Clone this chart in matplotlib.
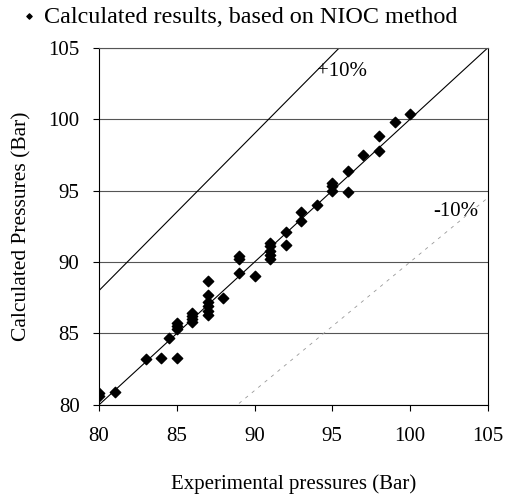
import matplotlib.pyplot as plt
import numpy as np

plt.rcParams['font.family'] = ['Liberation Serif', 'DejaVu Serif']

# experimental vs calculated pressures (Bar)
exp_p = [80, 80, 81, 83, 84, 84.5, 85, 85, 85, 85, 86, 86, 86, 86,
         87, 87, 87, 87, 87, 87, 88, 89, 89, 89, 90,
         91, 91, 91, 91, 91, 92, 92, 93, 93, 94, 95, 95, 95,
         96, 96, 97, 98, 98, 99, 100]
calc_p = [80.6, 80.8, 80.9, 83.2, 83.3, 84.7, 83.3, 85.3, 85.5, 85.7, 85.8, 86.0, 86.2, 86.4,
          86.3, 86.6, 86.9, 87.2, 87.7, 88.7, 87.5, 89.2, 90.2, 90.4, 89.0,
          90.2, 90.5, 90.8, 91.1, 91.3, 91.2, 92.1, 92.9, 93.5, 94.0, 95.0, 95.3, 95.5,
          94.9, 96.4, 97.5, 97.8, 98.8, 99.8, 100.4]

fig = plt.figure(figsize=(5.05, 4.98), dpi=100)
ax = fig.add_axes([0.196, 0.187, 0.77, 0.717])

xx = np.array([80, 105])
ax.plot(xx, xx, color='black', lw=0.8)
ax.plot(xx, 1.1 * xx, color='black', lw=0.8)
ax.plot(xx, 0.9 * xx, color='#999999', lw=0.6, ls=(0, (4, 6)))

ax.scatter(exp_p, calc_p, marker='D', s=28, color='black', zorder=3,
           label='Calculated results, based on NIOC method')

ax.text(94.0, 103.0, '+10%', fontsize=15)
ax.text(101.5, 93.2, '-10%', fontsize=15)

ax.set_xlim(80, 105)
ax.set_ylim(80, 105)
ax.set_xticks([80, 85, 90, 95, 100, 105])
ax.set_yticks([80, 85, 90, 95, 100, 105])
ax.yaxis.grid(True, color='#555555', lw=0.8)
ax.tick_params(labelsize=15, length=4, width=0.8, direction='out')
ax.tick_params(axis='y', pad=10)
ax.tick_params(axis='x', pad=12)
for s in ax.spines.values():
    s.set_linewidth(0.8)
ax.spines['top'].set_color('#555555')

ax.set_xlabel('Experimental pressures (Bar)', fontsize=15, labelpad=20)
ax.set_ylabel('Calculated Pressures (Bar)', fontsize=15.5, labelpad=12)

leg = fig.legend(loc='upper left', bbox_to_anchor=(-0.004, 1.032), frameon=False,
                 fontsize=17.4, markerscale=0.5, handletextpad=0.2, handlelength=0.8)

fig.savefig('out.png', dpi=100)
